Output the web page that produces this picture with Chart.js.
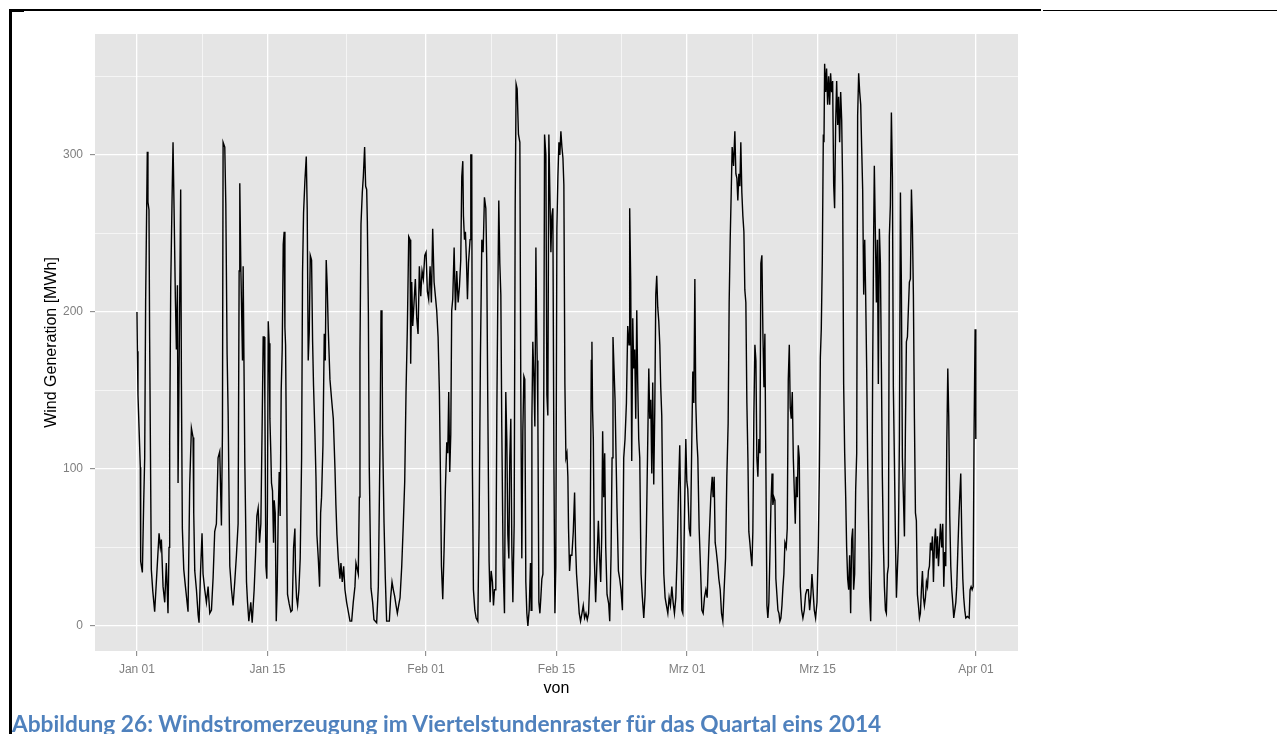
<!DOCTYPE html>
<html>
<head>
<meta charset="utf-8">
<script src="https://cdn.jsdelivr.net/npm/chart.js@4/dist/chart.umd.min.js"></script>
<style>
  html, body { margin: 0; padding: 0; background: #fff; }
  #page { position: relative; width: 1277px; height: 734px; overflow: hidden; }
  #chart { position: absolute; left: 0; top: 0; }
  .rule-top { position: absolute; left: 9px; top: 9px; width: 1032px; height: 1.5px; background: #000; }
  .rule-top2 { position: absolute; left: 1043px; top: 9.5px; width: 234px; height: 1.3px; background: #000; }
  .rule-left { position: absolute; left: 9px; top: 9px; width: 3px; height: 725px; background: #000; }
  .rule-corner { position: absolute; left: 10px; top: 10px; width: 14px; height: 2px; background: #000; }
  .caption {
    position: absolute; left: 12px; top: 710px; white-space: nowrap;
    font: bold 22.7px "Lato", "Open Sans", sans-serif; line-height: 1.2; color: #4f81bd;
  }
</style>
</head>
<body>
<div id="page">
  <div class="rule-top"></div>
  <div class="rule-top2"></div>
  <div class="rule-left"></div>
  <div class="rule-corner"></div>
  <canvas id="chart" width="1277" height="734"></canvas>
  <div class="caption">Abbildung 26: Windstromerzeugung im Viertelstundenraster für das Quartal eins 2014</div>
</div>
<script>
// days since 1 Jan 2014 00:00, wind generation in MWh
const janDays = [0,0.05,0.11,0.36,0.4,0.58,0.72,0.83,0.93,1.11,1.18,1.29,1.36,1.54,1.7,1.9,2.08,2.37,2.51,2.62,2.8,2.98,3.15,3.33,3.44,3.51,3.62,3.76,3.87,3.98,4.12,4.23,4.34,4.41,4.59,4.69,4.77,4.87,5.02,5.2,5.48,5.66,5.84,6.02,6.09,6.2,6.38,6.56,6.66,6.81,6.98,7.09,7.27,7.45,7.63,7.81,7.99,8.17,8.34,8.52,8.7,8.88,9.06,9.17,9.24,9.42,9.53,9.67,9.78,9.96,10.14,10.31,10.49,10.67,10.85,10.96,11.03,11.14,11.32,11.39,11.57,11.75,11.86,12,12.21,12.36,12.57,12.72,12.86,13,13.15,13.29,13.43,13.54,13.65,13.72,13.83,13.93,14,14.08,14.18,14.26,14.36,14.43,14.54,14.65,14.72,14.83,14.94,15.04,15.15,15.26,15.36,15.47,15.58,15.69,15.79,15.87,15.94,16.05,16.15,16.33,16.51,16.65,16.8,16.94,17.01,17.12,17.23,17.37,17.51,17.66,17.76,17.87,18.01,18.16,18.26,18.37,18.48,18.59,18.73,18.84,18.94,19.09,19.2,19.3,19.45,19.59,19.7,19.8,19.95,20.09,20.2,20.3,20.41,20.52,20.7,20.88,21.06,21.24,21.34,21.45,21.59,21.77,21.88,22.02,22.17,22.31,22.49,22.67,22.85,23.03,23.2,23.38,23.49,23.74,23.85,23.92,24.03,24.17,24.28,24.42,24.53,24.64,24.71,24.82,24.92,25.1,25.28,25.42,25.71,25.89,26.07,26.18,26.28,26.35,26.5,26.64,26.78,27.07,27.21,27.36,27.5,27.64,27.79,27.93,28.07,28.22,28.4,28.57,28.72,28.86,29,29.15,29.29,29.36,29.47,29.58,29.72,29.86,30.01,30.15,30.29,30.44,30.58,30.72,30.87];
const janMWh = [200,175,147,101,41,34,78,107,206,302,270,265,183,36,22,9,28,59,50,55,25,15,40,8,50,118,215,270,308,266,209,176,217,91,211,278,154,62,36,25,9,90,126,120,72,35,23,7,2,33,59,33,23,15,25,8,10,31,60,65,107,111,64,124,308,305,269,173,136,38,23,13,28,45,65,226,282,229,169,229,104,28,15,3,15,2,23,45,70,75,53,65,129,184,184,142,38,30,80,194,180,132,110,91,86,53,80,72,3,23,70,98,70,150,176,243,251,190,179,100,20,14,9,10,50,62,34,18,13,23,43,107,225,263,283,299,266,169,187,236,233,181,153,122,95,58,43,25,72,82,115,186,169,233,216,189,157,144,132,100,77,58,43,30,40,28,38,23,15,9,3,3,15,25,40,33,82,174,256,276,286,305,280,278,258,201,100,24,15,4,2,25,115,201,192,122,66,30,3,3,18,28,23,19,13,8,13,18,38,65,92,149,189,248,246,167,219,191,206,221,196,186,229,210,226,221,236];

const febDays = [31.01,31.15,31.29,31.44,31.58,31.72,31.87,32.01,32.15,32.3,32.44,32.55,32.66,32.8,32.94,33.08,33.23,33.34,33.44,33.55,33.66,33.76,33.87,34.02,34.16,34.3,34.45,34.59,34.73,34.84,34.95,35.02,35.13,35.23,35.34,35.45,35.56,35.73,35.81,35.91,35.98,36.09,36.24,36.38,36.56,36.7,36.84,36.99,37.13,37.27,37.42,37.52,37.63,37.77,37.88,37.99,38.13,38.24,38.35,38.49,38.6,38.7,38.81,38.92,39.03,39.13,39.28,39.42,39.56,39.67,39.78,39.89,39.99,40.1,40.21,40.32,40.46,40.57,40.67,40.78,40.92,41.07,41.17,41.28,41.39,41.5,41.6,41.71,41.82,41.93,42.07,42.21,42.28,42.36,42.46,42.57,42.68,42.79,42.86,42.93,43,43.11,43.22,43.32,43.43,43.54,43.64,43.72,43.86,43.97,44.07,44.18,44.29,44.4,44.5,44.61,44.72,44.83,44.93,45.04,45.15,45.26,45.36,45.47,45.58,45.69,45.79,45.9,46.01,46.12,46.22,46.29,46.4,46.51,46.65,46.8,46.94,47.05,47.15,47.3,47.44,47.58,47.73,47.87,48.01,48.16,48.3,48.44,48.59,48.73,48.8,48.87,48.95,49.06,49.2,49.35,49.49,49.63,49.74,49.85,49.95,50.06,50.17,50.28,50.42,50.6,50.71,50.85,50.96,51.06,51.17,51.28,51.39,51.49,51.64,51.78,51.92,52.07,52.21,52.35,52.5,52.64,52.78,52.85,52.96,53.07,53.18,53.28,53.39,53.5,53.61,53.71,53.82,53.93,54.07,54.21,54.36,54.5,54.64,54.79,54.9,55,55.11,55.22,55.32,55.43,55.54,55.65,55.75,55.86,55.97,56.08,56.18,56.29,56.4,56.51,56.65,56.79,56.94,57.08,57.22,57.37,57.51,57.65,57.8,57.94,58.08,58.22,58.33,58.44,58.55,58.65,58.76,58.87,58.98];
const febMWh = [238,213,208,229,206,253,219,210,201,184,149,97,38,17,48,87,117,110,149,98,122,201,208,241,201,226,206,216,233,286,296,261,246,251,233,208,231,246,300,300,100,23,10,5,3,65,171,246,238,273,266,231,142,41,15,35,28,13,23,23,136,206,271,231,211,127,38,8,149,119,58,43,107,132,50,15,65,268,345,342,313,308,152,43,124,159,157,28,8,0,10,40,10,132,181,159,127,241,196,169,134,15,8,18,30,33,154,313,300,147,134,313,276,238,261,266,105,8,38,253,286,308,300,315,305,298,281,154,107,110,95,62,35,45,45,60,85,50,33,20,8,3,8,13,5,8,4,8,33,169,181,137,119,43,15,43,67,43,28,57,124,82,110,50,20,14,3,45,107,184,164,144,107,75,35,30,23,10,107,119,142,191,179,266,219,105,196,164,176,132,201,155,119,107,33,18,5,20,60,119,164,132,144,97,155,90,137,211,223,203,194,179,152,134,75,33,18,13,8,18,13,25,15,8,18,45,85,115,70,10,8,40,82,119,92];

const marDays = [59.08,59.23,59.37,59.51,59.62,59.73,59.84,59.94,60.05,60.16,60.3,60.44,60.59,60.73,60.87,61.02,61.16,61.34,61.45,61.55,61.7,61.8,61.91,62.02,62.13,62.27,62.41,62.56,62.7,62.84,62.98,63.13,63.27,63.41,63.52,63.63,63.74,63.84,63.99,64.13,64.24,64.35,64.45,64.56,64.67,64.77,64.88,64.99,65.1,65.2,65.31,65.42,65.53,65.63,65.74,65.85,65.96,66.06,66.17,66.28,66.39,66.49,66.6,66.71,66.82,66.92,67.03,67.14,67.25,67.35,67.46,67.57,67.67,67.78,67.89,68,68.12,68.21,68.32,68.43,68.53,68.64,68.75,68.86,68.96,69.07,69.18,69.29,69.39,69.5,69.64,69.75,69.86,69.97,70.07,70.18,70.29,70.4,70.5,70.61,70.72,70.83,70.93,71.04,71.15,71.29,71.43,71.58,71.72,71.86,72.01,72.15,72.29,72.4,72.51,72.65,72.79,72.94,73.08,73.19,73.3,73.4,73.51,73.62,73.69,73.76,73.87,73.97,74.08,74.19,74.3,74.4,74.51,74.62,74.73,74.83,74.94,75.05,75.16,75.26,75.37,75.48,75.59,75.69,75.8,75.91,76.02,76.12,76.23,76.34,76.44,76.55,76.66,76.77,76.87,76.98,77.09,77.2,77.3,77.41,77.52,77.63,77.73,77.84,77.95,78.06,78.16,78.27,78.38,78.49,78.59,78.7,78.81,78.91,79.02,79.09,79.2,79.31,79.42,79.52,79.63,79.74,79.85,79.95,80.06,80.17,80.28,80.38,80.49,80.6,80.7,80.81,80.92,81.03,81.13,81.24,81.35,81.46,81.56,81.67,81.78,81.89,81.99,82.1,82.21,82.32,82.42,82.53,82.64,82.75,82.85,82.96,83.07,83.17,83.28,83.39,83.5,83.6,83.71,83.82,83.93,84.03,84.14,84.25,84.36,84.46,84.57,84.68,84.79,84.89,85,85.11,85.22,85.32,85.43,85.54,85.65,85.75,85.86,85.97,86.07,86.18,86.32,86.43,86.54,86.64,86.75,86.86,86.97,87.07,87.18,87.29,87.4,87.5,87.61,87.72,87.83,87.93,88.04,88.15,88.25,88.36,88.47,88.58,88.68,88.79,88.9,89.08,89.26,89.36,89.47,89.58,89.69,89.79,89.9,89.96,89.99];
const marMWh = [87,62,57,117,162,142,221,142,119,107,62,38,10,8,18,23,18,50,67,82,95,82,95,53,48,40,30,23,8,3,23,43,95,129,206,246,276,305,293,315,288,285,271,288,280,308,276,261,251,214,206,142,107,60,53,45,38,60,134,179,169,107,95,119,110,231,236,186,152,186,100,13,5,15,45,77,97,77,82,80,30,20,10,8,3,5,13,25,33,53,50,62,157,179,139,132,149,107,87,65,95,82,115,107,25,10,5,10,20,23,23,10,20,33,23,10,5,15,50,97,171,189,233,313,308,358,340,355,332,350,332,352,340,347,281,266,319,347,319,337,308,340,322,281,154,110,82,50,30,23,45,8,55,62,23,33,87,110,325,352,340,332,305,278,211,246,211,164,102,57,18,3,45,162,251,293,251,206,246,154,253,231,164,95,53,25,10,8,33,38,248,268,327,286,152,107,57,18,35,53,119,276,219,107,82,57,122,181,184,203,219,221,278,256,211,132,72,67,20,13,5,8,23,35,18,13,18,28,25,35,38,53,48,57,28,53,62,43,57,38,50,65,50,65,25,47,38,115,164,134,70,38,23,15,5,10,15,25,47,67,82,97,57,30,18,10,5,6,5,23,25,23,25,124,189,174,119];

// axis breaks
const majorDays = [0, 14, 31, 45, 59, 73, 90];
const majorLabels = ["Jan 01", "Jan 15", "Feb 01", "Feb 15", "Mrz 01", "Mrz 15", "Apr 01"];
const minorDays = [7, 22.5, 38, 52, 66, 81.5];
const yMajor = [0, 100, 200, 300];
const yMinor = [50, 150, 250, 350];

const days = janDays.concat(febDays, marDays);
const mwh = janMWh.concat(febMWh, marMWh);
const points = days.map((d, i) => ({ x: d, y: mwh[i] }));

const TICK_GREY = "#7f7f7f";
const FONT = "'Liberation Sans', Arial, sans-serif";

const isMajorX = (v) => majorDays.includes(v);
const isMajorY = (v) => yMajor.includes(v);

// grey ggplot panel
const panelBg = {
  id: "panelBg",
  beforeDraw(chart) {
    const { ctx, chartArea: a } = chart;
    ctx.save();
    ctx.fillStyle = "#e5e5e5";
    ctx.fillRect(a.left, a.top, a.right - a.left, a.bottom - a.top);
    ctx.restore();
  },
};

new Chart(document.getElementById("chart"), {
  type: "line",
  data: {
    datasets: [{
      data: points,
      borderColor: "#000",
      borderWidth: 1.4,
      pointRadius: 0,
      tension: 0,
      fill: false,
    }],
  },
  options: {
    responsive: false,
    animation: false,
    events: [],
    layout: { padding: { top: 34, right: 259, bottom: 0, left: 0 } },
    plugins: { legend: { display: false }, tooltip: { enabled: false } },
    scales: {
      x: {
        type: "linear",
        min: -4.5,
        max: 94.5,
        afterBuildTicks(s) {
          s.ticks = majorDays.concat(minorDays).sort((a, b) => a - b).map((v) => ({ value: v }));
        },
        afterFit(s) { s.height = 83; },
        ticks: {
          autoSkip: false,
          maxRotation: 0,
          padding: 6,
          color: TICK_GREY,
          font: { family: FONT, size: 12 },
          callback: (v) => (isMajorX(v) ? majorLabels[majorDays.indexOf(v)] : ""),
        },
        grid: {
          color: "#fff",
          lineWidth: (c) => (c.tick && isMajorX(c.tick.value) ? 1.3 : 0.6),
          tickLength: 5,
          tickColor: (c) => (c.tick && isMajorX(c.tick.value) ? TICK_GREY : "rgba(0,0,0,0)"),
          tickWidth: 1,
        },
        border: { display: false },
        title: {
          display: true,
          text: "von",
          color: "#000",
          font: { family: FONT, size: 16 },
          padding: { top: 0, bottom: 36 },
        },
      },
      y: {
        min: -16,
        max: 377,
        afterBuildTicks(s) {
          s.ticks = yMajor.concat(yMinor).sort((a, b) => a - b).map((v) => ({ value: v }));
        },
        afterFit(s) { s.width = 95; },
        ticks: {
          autoSkip: false,
          padding: 7,
          color: TICK_GREY,
          font: { family: FONT, size: 12 },
          callback: (v) => (isMajorY(v) ? String(v) : ""),
        },
        grid: {
          color: "#fff",
          lineWidth: (c) => (c.tick && isMajorY(c.tick.value) ? 1.3 : 0.6),
          tickLength: 5,
          tickColor: (c) => (c.tick && isMajorY(c.tick.value) ? TICK_GREY : "rgba(0,0,0,0)"),
          tickWidth: 1,
        },
        border: { display: false },
        title: {
          display: true,
          text: "Wind Generation [MWh]",
          color: "#000",
          font: { family: FONT, size: 16 },
          padding: { top: 42, bottom: 0 },
        },
      },
    },
  },
  plugins: [panelBg],
});
</script>
</body>
</html>
